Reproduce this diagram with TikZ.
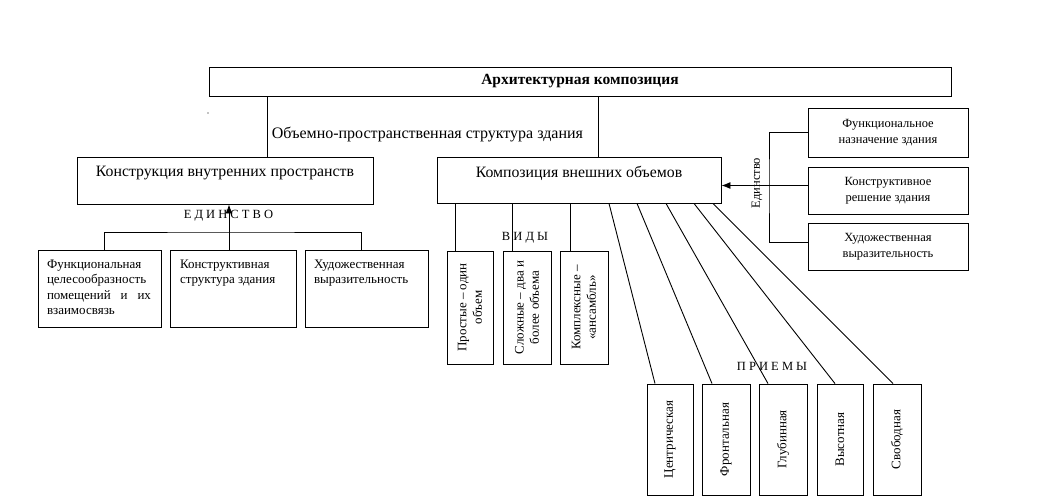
\documentclass[tikz,border=0pt]{standalone}
\usepackage{fontspec}
\setmainfont{Liberation Serif}
\usepackage{tikz}
\usetikzlibrary{arrows.meta}

\begin{document}
\begin{tikzpicture}[x=1pt,y=-1pt,line width=0.9pt,
    blk/.style={draw, inner sep=0pt},
    txt/.style={inner sep=0pt, font=\fontsize{13}{15.4}\selectfont},
    sml/.style={inner sep=0pt, align=center, font=\fontsize{12.5}{16}\selectfont},
    big/.style={font=\fontsize{15.8}{18}\selectfont},
    arr/.style={-{Latex[length=9pt,width=7pt]}}]
  \useasboundingbox (0,0) rectangle (1050,499);

  % top
  \node[blk, minimum width=742, minimum height=29, font=\bfseries\fontsize{15.5}{18}\selectfont] (arch) at (580,81.5) {Архитектурная композиция};
  \node[big, inner sep=0pt, font=\fontsize{16}{18}\selectfont] (ops) at (427.5,134) {Объемно-пространственная структура здания};
  \fill (208,113) circle (0.6);

  \node[blk, big, minimum width=296, minimum height=47, text depth=18pt] (inner) at (225,180.5) {Конструкция внутренних пространств};
  \node[blk, big, minimum width=284, minimum height=46, text depth=16pt] (outer) at (579,180) {Композиция внешних объемов};

  \draw ([xshift=42pt]inner.north) -- ([xshift=42pt]inner.north |- arch.south);
  \draw ([xshift=19pt]outer.north) -- ([xshift=19pt]outer.north |- arch.south);

  % inner space
  \node[blk, minimum width=123, minimum height=77] (f1) at (99.5,288.5) {};
  \node[blk, minimum width=126, minimum height=77] (f2) at (233,288.5) {};
  \node[blk, minimum width=123, minimum height=77] (f3) at (366.5,288.5) {};
  \node[txt, anchor=north west, align=left] (f1t) at ([xshift=9pt,yshift=-10pt]f1.north west) {Функциональная\\целесообразность\\\makebox[104pt][s]{помещений и их}\\взаимосвязь};
  \node[txt, anchor=north west, align=left] (f2t) at ([xshift=10pt,yshift=-10pt]f2.north west) {Конструктивная\\структура здания};
  \node[txt, anchor=north west, align=left] (f3t) at ([xshift=9pt,yshift=-10pt]f3.north west) {Художественная\\выразительность};

  \node[sml] (edin) at (228.5,216) {Е Д И Н С Т В О};
  \coordinate (bar) at (229,232);
  \draw ([xshift=4.5pt]f1.north) |- (bar) -| ([xshift=-5.5pt]f3.north);
  \draw[arr] ([xshift=-4pt]f2.north) -- ([xshift=-4pt]f2.north |- inner.south);

  % kinds
  \node[blk, minimum width=46, minimum height=113] (vA) at (470,307.5) {};
  \node[blk, minimum width=48, minimum height=113] (vB) at (527,307.5) {};
  \node[blk, minimum width=48, minimum height=113] (vC) at (584,307.5) {};
  \node[txt, rotate=90, align=center] (vAt) at (vA) {Простые – один\\объем};
  \node[txt, rotate=90, align=center] (vBt) at (vB) {Сложные – два и\\более объема};
  \node[txt, rotate=90, align=center] (vCt) at (vC) {Комплексные –\\«ансамбль»};
  \node[sml] (vidy) at (525,238) {В И Д Ы};

  \draw ([xshift=-15pt]vA.north) -- ([xshift=-15pt]vA.north |- outer.south);
  \draw ([xshift=-15pt]vB.north) -- ([xshift=-15pt]vB.north |- outer.south);
  \draw ([xshift=-14pt]vC.north) -- ([xshift=-14pt]vC.north |- outer.south);

  % techniques
  \node[blk, minimum width=46, minimum height=111] (p1) at (670,439.5) {};
  \node[blk, minimum width=48, minimum height=111] (p2) at (726,439.5) {};
  \node[blk, minimum width=48, minimum height=111] (p3) at (783,439.5) {};
  \node[blk, minimum width=46, minimum height=111] (p4) at (840,439.5) {};
  \node[blk, minimum width=48, minimum height=111] (p5) at (897,439.5) {};
  \node[txt, rotate=90] (p1t) at (p1) {Центрическая};
  \node[txt, rotate=90] (p2t) at (p2) {Фронтальная};
  \node[txt, rotate=90] (p3t) at (p3) {Глубинная};
  \node[txt, rotate=90] (p4t) at (p4) {Высотная};
  \node[txt, rotate=90] (p5t) at (p5) {Свободная};
  \node[sml] (priem) at (772,366) {П Р И Е М Ы};

  \draw ([xshift=30pt]outer.south) -- ([xshift=-15pt]p1.north);
  \draw ([xshift=58pt]outer.south) -- ([xshift=-14pt]p2.north);
  \draw ([xshift=87pt]outer.south) -- ([xshift=-15pt]p3.north);
  \draw ([xshift=115pt]outer.south) -- ([xshift=-5pt]p4.north);
  \draw ([xshift=134pt]outer.south) -- ([xshift=-4pt]p5.north);

  % unity
  \node[blk, sml, minimum width=160, minimum height=49] (r1) at (888,132.5) {Функциональное\\назначение здания};
  \node[blk, sml, minimum width=160, minimum height=47] (r2) at (888,190.5) {Конструктивное\\решение здания};
  \node[blk, sml, minimum width=160, minimum height=47] (r3) at (888,246.5) {Художественная\\выразительность};
  \node[sml, rotate=90] (ed) at (757,183) {Единство};
  \coordinate (brk) at (769,185);
  \draw (r1.west) -| (brk) |- ([yshift=4.5pt]r3.west);
  \draw[arr] ([yshift=5pt]r2.west) -- ([yshift=5pt]r2.west -| outer.east);
\end{tikzpicture}
\end{document}
